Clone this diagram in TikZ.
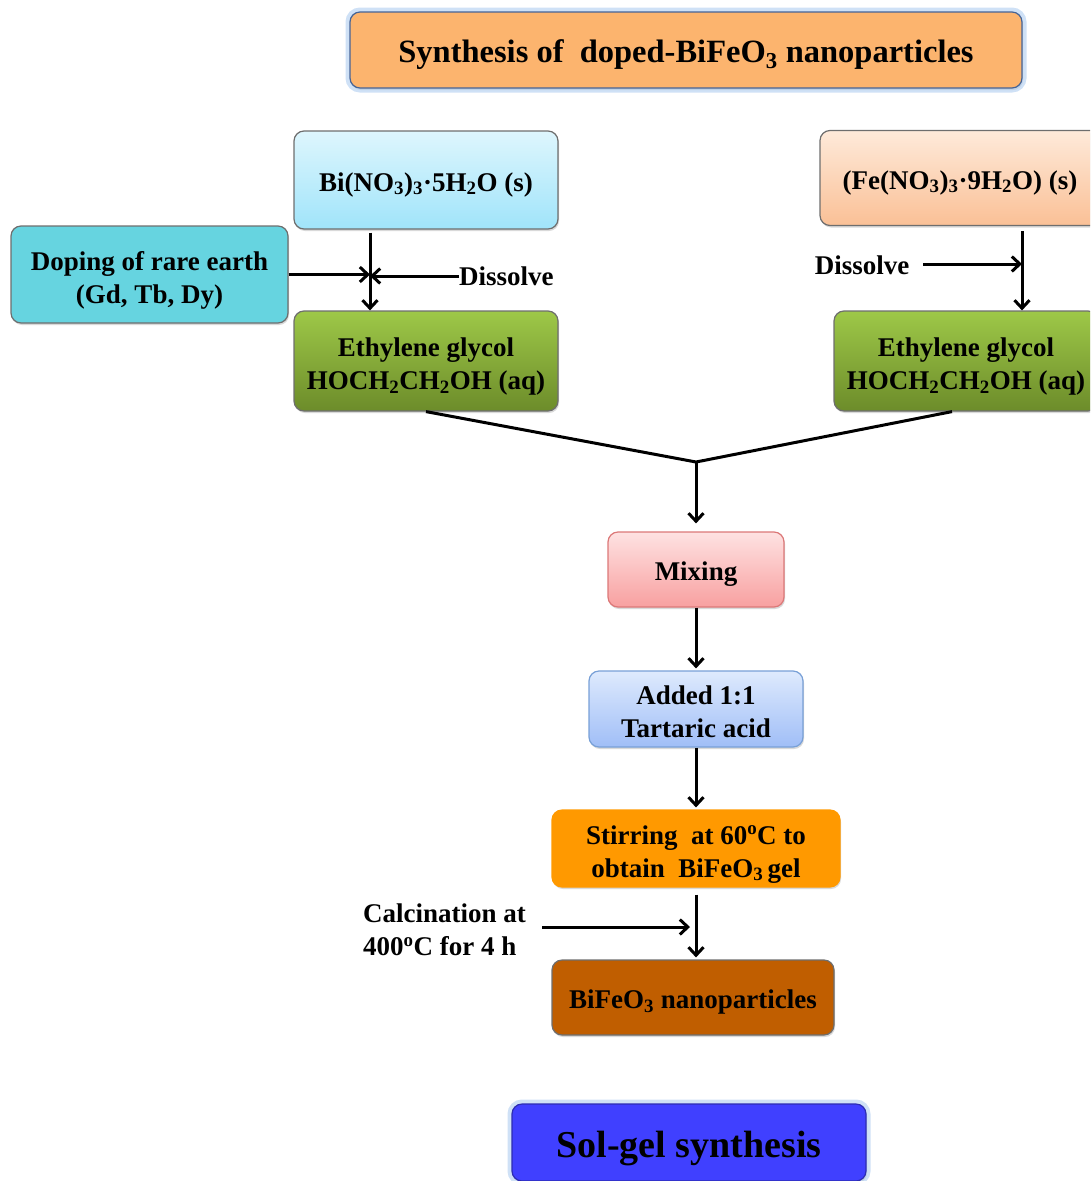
\documentclass[tikz,border=0pt]{standalone}
\usepackage{fontspec}
\setmainfont{Liberation Serif}
\usetikzlibrary{arrows,arrows.meta,shadows}

\definecolor{ttlfill}{RGB}{252,180,110}
\definecolor{ttlline}{RGB}{70,100,150}
\definecolor{glowblue}{RGB}{175,205,240}
\definecolor{bitop}{RGB}{222,246,253}
\definecolor{bibot}{RGB}{160,228,250}
\definecolor{fetop}{RGB}{254,234,218}
\definecolor{febot}{RGB}{250,192,150}
\definecolor{dopfill}{RGB}{102,212,224}
\definecolor{egtop}{RGB}{158,200,72}
\definecolor{egbot}{RGB}{108,140,42}
\definecolor{mixtop}{RGB}{254,226,226}
\definecolor{mixbot}{RGB}{248,160,160}
\definecolor{mixline}{RGB}{220,120,120}
\definecolor{addtop}{RGB}{222,234,253}
\definecolor{addbot}{RGB}{160,190,247}
\definecolor{addline}{RGB}{120,160,215}
\definecolor{stirfill}{RGB}{255,153,0}
\definecolor{nanofill}{RGB}{192,94,0}
\definecolor{solfill}{RGB}{64,64,255}
\definecolor{boxline}{RGB}{110,110,110}

\begin{document}
\begin{tikzpicture}[x=1pt,y=-1pt,>={Straight Barb[length=8pt,width=15pt]},
                    main node/.style={rectangle,rounded corners=10pt,draw=boxline,line width=1.2pt,
                      align=center,font=\bfseries\fontsize{27}{33}\selectfont,
                      text height=22pt,text depth=0pt,
                      drop shadow={opacity=0.3,shadow xshift=1pt,shadow yshift=-2pt}},
                    two lines/.style={text height=57pt},
                    glow/.style={preaction={draw=glowblue,line width=9pt,opacity=0.6}},
                    text node/.style={font=\bfseries\fontsize{27}{33}\selectfont,inner sep=0pt},
                    flow/.style={->,line width=3pt}]

  \useasboundingbox (0,0) rectangle (1090,1181);
  \clip (0,0) rectangle (1090,1181);

  \node[main node,glow,fill=ttlfill,draw=ttlline,minimum width=672,minimum height=76,text height=25pt,
        font=\bfseries\fontsize{32.5}{38}\selectfont] (0) at (686,50)
        {Synthesis of\ \ doped-BiFeO\textsubscript{3} nanoparticles};

  \node[main node,top color=bitop,bottom color=bibot,minimum width=264,minimum height=98] (1) at (426,180)
        {Bi(NO\textsubscript{3})\textsubscript{3}·5H\textsubscript{2}O (s)};
  \node[main node,top color=fetop,bottom color=febot,minimum width=280,minimum height=95] (2) at (960,178)
        {(Fe(NO\textsubscript{3})\textsubscript{3}·9H\textsubscript{2}O) (s)};
  \node[main node,two lines,fill=dopfill,minimum width=277,minimum height=97] (3) at (149.5,274.5)
        {Doping of rare earth\\(Gd, Tb, Dy)};
  \node[main node,two lines,top color=egtop,bottom color=egbot,minimum width=264,minimum height=100] (4) at (426,361)
        {Ethylene glycol\\HOCH\textsubscript{2}CH\textsubscript{2}OH (aq)};
  \node[main node,two lines,top color=egtop,bottom color=egbot,minimum width=264,minimum height=100] (5) at (966,361)
        {Ethylene glycol\\HOCH\textsubscript{2}CH\textsubscript{2}OH (aq)};
  \node[main node,top color=mixtop,bottom color=mixbot,draw=mixline,minimum width=176,minimum height=75] (6) at (696,569.5)
        {Mixing};
  \node[main node,two lines,top color=addtop,bottom color=addbot,draw=addline,minimum width=214,minimum height=76] (7) at (696,709)
        {Added 1:1\\Tartaric acid};
  \node[main node,two lines,fill=stirfill,draw=stirfill,minimum width=288,minimum height=77] (8) at (696,848.5)
        {Stirring\ \ at 60\textsuperscript{o}C to\\obtain\ \ BiFeO\textsubscript{3}\,gel};
  \node[main node,fill=nanofill,minimum width=282,minimum height=75] (9) at (693,997.5)
        {BiFeO\textsubscript{3} nanoparticles};
  \node[main node,glow,fill=solfill,draw=solfill!70!black,minimum width=354,minimum height=77,text height=30pt,
        font=\bfseries\fontsize{38}{44}\selectfont] (10) at (689,1142.5) {Sol-gel synthesis};

  \node[text node,anchor=west] (11) at (459,276) {Dissolve};
  \node[text node] (12) at (862,265) {Dissolve};
  \node[text node,anchor=west,align=left] (13) at (363,930) {Calcination at\\400\textsuperscript{o}C for 4 h};

  \coordinate (jl) at (370,276);
  \coordinate (jr) at (1022,264);
  \coordinate (mg) at (696,462);
  \coordinate (jc) at (690,927);

  \path[flow]
    (1.south -| jl) edge [shorten <=3pt] (4.north -| jl)
    (3.east) edge (3.east -| jl)
    (11.west) edge (jl)

    (2.south -| jr) edge [shorten <=5pt] (5.north -| jr)
    ([xshift=14pt]12.east |- jr) edge (jr)

    (6) edge [shorten >=2pt] (7)
    (7) edge [shorten >=2pt] (8)
    (8.south) edge [shorten <=7pt,shorten >=2pt] (9.north -| 8.south)
    ([xshift=16pt]13.east |- jc) edge (jc)
;

  \draw[flow,-] (4.south) -- (mg) -- ([xshift=-14pt]5.south);
  \draw[flow,shorten >=8pt] (mg) -- (6.north);
\end{tikzpicture}
\end{document}
